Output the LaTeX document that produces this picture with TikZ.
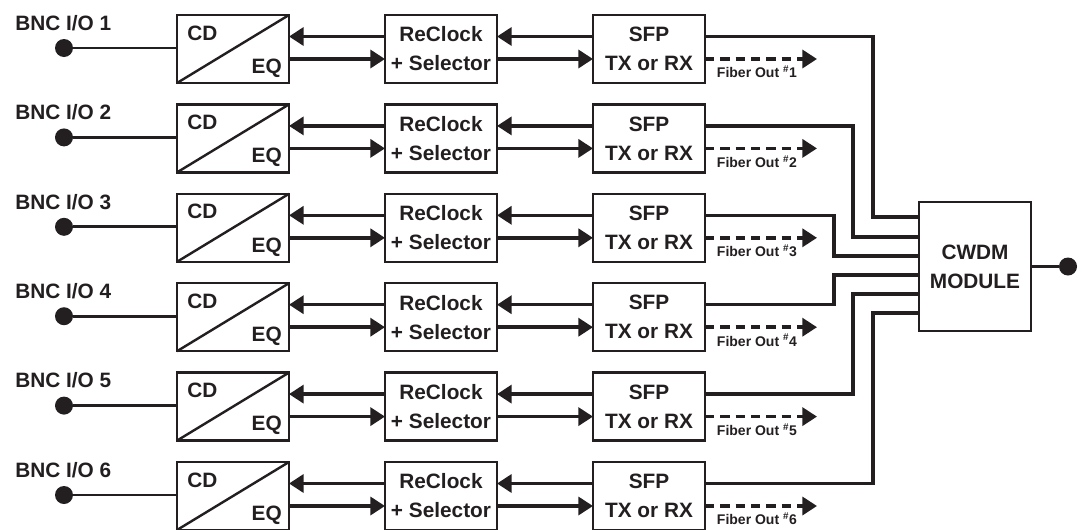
\documentclass[tikz,border=0pt]{standalone}
\usepackage{fontspec}
\setmainfont{Liberation Sans}
\usetikzlibrary{arrows.meta,calc}
\definecolor{ink}{RGB}{35,31,32}
\begin{document}
\begin{tikzpicture}[x=0.75pt,y=-0.75pt,
  box/.style={draw=ink,line width=1.7pt,minimum width=84pt,minimum height=51pt,inner sep=0pt,outer sep=0pt,anchor=north west,align=center,text=ink,font=\bfseries\fontsize{15.6}{21.75}\selectfont},
  lbl/.style={inner sep=0pt,text=ink,font=\bfseries\fontsize{15.6}{18}\selectfont},
  fib/.style={inner sep=0pt,text=ink,font=\bfseries\fontsize{10.5}{12}\selectfont},
  wire/.style={draw=ink,line width=2.6pt},
  thinwire/.style={draw=ink,line width=2.2pt},
  diag/.style={draw=ink,line width=1.8pt},
  arr/.style={wire,-{Triangle[length=11pt,width=13.5pt]}},
  dasharr/.style={wire,dash pattern=on 7pt off 4.5pt,-{Triangle[length=11pt,width=13.5pt]}},
  bnc/.style={circle,fill=ink,minimum size=13.5pt,inner sep=0pt}
]
\useasboundingbox (0,0) rectangle (1083,529);
\node[box,minimum height=96.75pt] (cw) at (919,202) {CWDM\\MODULE};
\node[bnc] (out) at ($(cw.east)+(37,0)$) {};
\draw[thinwire] (cw.east) -- (out);
\foreach \i/\dx/\e [evaluate=\i as \t using {15+89.4*(\i-1)}] in {1/168/15,2/148/35,3/129/54,4/129/73,5/148/92,6/168/111}{
  \node[box] (cd\i) at (177,\t) {};
  \draw[diag] (cd\i.south west) -- (cd\i.north east);
  \node[lbl,anchor=west] at ($(cd\i.north west)+(10,18)$) {CD};
  \node[lbl,anchor=east] at ($(cd\i.south east)+(-7,-15)$) {EQ};
  \node[box] (rc\i) at (385,\t) {ReClock\\+ Selector};
  \node[box] (sf\i) at (593,\t) {SFP\\TX or RX};
  \node[bnc] (b\i) at (64,\t+33) {};
  \node[lbl,anchor=west] at (15,\t+8) {BNC I/O \i};
  \draw[thinwire] (b\i) -- (b\i -| cd\i.west);
  \draw[arr] ($(rc\i.north west)+(0,21.5)$) -- ($(cd\i.north east)+(0,21.5)$);
  \draw[arr] ($(cd\i.north east)+(0,44)$) -- ($(rc\i.north west)+(0,44)$);
  \draw[arr] ($(sf\i.north west)+(0,21.5)$) -- ($(rc\i.north east)+(0,21.5)$);
  \draw[arr] ($(rc\i.north east)+(0,44)$) -- ($(sf\i.north west)+(0,44)$);
  \coordinate (fo\i) at (817,\t+44);
  \draw[dasharr] ($(sf\i.north east)+(0,44)$) -- (fo\i);
  \node[fib] at (757,\t+57) {Fiber Out \textsuperscript{\#}\i};
  \draw[wire] ($(sf\i.north east)+(0,21.5)$) -- ++(\dx,0) |- ($(cw.north west)+(0,\e)$);
}
\end{tikzpicture}
\end{document}
